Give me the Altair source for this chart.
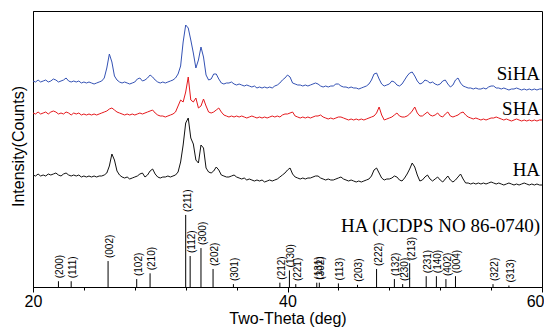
import altair as alt
import pandas as pd

# 2-theta grid (deg)
two_theta = [round(20 + 0.2 * i, 1) for i in range(201)]

siha = [206, 205, 207, 205, 206, 207, 205, 206, 208, 207,
        205, 206, 207, 209, 206, 205, 206, 205, 206, 204,
        205, 204, 205, 204, 203, 204, 205, 206, 209, 219,
        233, 225, 211, 207, 205, 204, 205, 204, 203, 204,
        205, 208, 209, 206, 207, 209, 212, 210, 207, 205,
        204, 205, 204, 205, 206, 207, 209, 213, 221, 245,
        262, 259, 247, 234, 219, 227, 240, 230, 212, 207,
        208, 213, 213, 208, 204, 203, 204, 204, 205, 203,
        202, 203, 202, 201, 202, 201, 200, 201, 199, 200,
        199, 200, 199, 200, 199, 201, 202, 204, 207, 209,
        212, 210, 204, 203, 202, 202, 201, 202, 201, 202,
        203, 204, 203, 201, 200, 201, 200, 201, 201, 203,
        203, 201, 200, 200, 199, 200, 199, 199, 198, 199,
        200, 201, 203, 207, 213, 214, 208, 203, 201, 202,
        203, 206, 205, 202, 201, 203, 207, 211, 214, 215,
        211, 206, 203, 204, 207, 206, 204, 205, 203, 202,
        203, 206, 207, 203, 200, 202, 207, 209, 204, 201,
        200, 199, 199, 198, 199, 198, 198, 199, 198, 200,
        201, 201, 199, 199, 198, 199, 198, 197, 198, 198,
        199, 198, 197, 198, 197, 198, 197, 198, 197, 198,
        198]

sha = [174, 173, 175, 173, 174, 175, 173, 175, 176, 175,
       173, 174, 173, 175, 174, 172, 174, 173, 174, 172,
       173, 172, 173, 172, 173, 172, 173, 174, 175, 176,
       178, 179, 177, 175, 174, 173, 172, 173, 172, 173,
       172, 173, 174, 173, 174, 175, 176, 177, 174, 172,
       171, 171, 170, 171, 172, 173, 175, 181, 187, 185,
       195, 210, 187, 185, 189, 179, 181, 188, 181, 175,
       174, 175, 177, 179, 175, 172, 171, 170, 171, 170,
       171, 170, 171, 170, 169, 170, 171, 170, 169, 170,
       169, 170, 169, 170, 171, 170, 171, 170, 172, 173,
       173, 174, 175, 171, 170, 169, 170, 169, 170, 169,
       170, 171, 171, 172, 170, 169, 168, 169, 168, 169,
       170, 170, 169, 168, 167, 168, 167, 168, 167, 168,
       167, 168, 169, 170, 171, 174, 180, 172, 167, 168,
       169, 170, 172, 174, 171, 170, 170, 171, 173, 176,
       180, 174, 171, 171, 173, 175, 172, 171, 172, 174,
       171, 170, 173, 175, 171, 170, 171, 172, 174, 175,
       172, 170, 169, 168, 169, 168, 167, 168, 167, 168,
       169, 169, 170, 169, 168, 167, 168, 167, 166, 167,
       168, 167, 166, 167, 166, 167, 166, 167, 166, 167,
       167]

ha = [112, 111, 113, 111, 112, 111, 113, 112, 113, 114,
      112, 111, 113, 114, 112, 111, 112, 111, 112, 110,
      111, 110, 111, 110, 111, 110, 111, 111, 112, 114,
      121, 133, 127, 116, 112, 110, 109, 110, 108, 109,
      110, 111, 113, 114, 110, 112, 116, 118, 113, 110,
      109, 110, 110, 111, 110, 111, 112, 115, 125, 142,
      164, 169, 149, 143, 127, 124, 142, 139, 119, 115,
      114, 116, 120, 117, 112, 111, 110, 110, 111, 112,
      110, 109, 108, 109, 107, 108, 107, 106, 107, 106,
      107, 105, 106, 107, 106, 107, 108, 110, 112, 114,
      117, 119, 113, 110, 109, 108, 109, 108, 109, 109,
      110, 111, 111, 109, 108, 107, 108, 107, 107, 108,
      109, 110, 108, 107, 106, 107, 106, 105, 106, 105,
      106, 107, 108, 111, 117, 119, 114, 109, 107, 108,
      108, 109, 111, 110, 107, 106, 109, 113, 118, 124,
      120, 112, 106, 107, 110, 112, 108, 106, 108, 110,
      107, 105, 108, 111, 107, 105, 107, 110, 113, 108,
      104, 104, 103, 104, 103, 104, 103, 104, 103, 104,
      105, 104, 103, 104, 103, 102, 103, 104, 103, 102,
      103, 102, 103, 104, 103, 102, 103, 102, 103, 102,
      102]

sample_names = ["SiHA", "SHA", "HA"]
sample_colors = ["#3452b4", "#e5191d", "#111111"]
sample_label_y = [213, 178, 117]
label_x = 59.85

# Reference pattern (HA, JCPDS 86-0740)
ref_pos = [22.0, 23.0, 25.9, 28.15, 29.2, 32.0, 32.35, 33.2, 34.15, 35.75,
           39.4, 40.15, 40.65, 42.3, 42.5, 44.0, 45.5, 47.0, 48.4, 49.05,
           49.6, 50.9, 51.7, 52.45, 53.2, 56.15, 57.4]
ref_int = [8, 8, 36, 11, 19, 100, 43, 54, 25, 4,
           6, 23, 4, 6, 6, 5, 3, 25, 11, 4,
           33, 15, 15, 11, 15, 4, 2]
ref_hkl = ["(200)", "(111)", "(002)", "(102)", "(210)", "(211)", "(112)", "(300)", "(202)", "(301)",
           "(212)", "(130)", "(221)", "(131)", "(302)", "(113)", "(203)", "(222)", "(132)", "(230)",
           "(213)", "(231)", "(140)", "(402)", "(004)", "(322)", "(313)"]
ref_title = "HA (JCDPS NO 86-0740)"
ref_title_y = 61

rows = []
for name, vals in zip(sample_names, [siha, sha, ha]):
    for t, v in zip(two_theta, vals):
        rows.append({"two_theta": t, "intensity": v, "sample": name})
traces = pd.DataFrame(rows)

labels_df = pd.DataFrame({"two_theta": [label_x] * 4,
                          "intensity": sample_label_y + [ref_title_y],
                          "text": sample_names + [ref_title]})
ref_df = pd.DataFrame({"two_theta": ref_pos, "rel": ref_int, "hkl": ref_hkl})

x_axis = alt.Axis(
    values=list(range(20, 61, 2)),
    labelExpr="datum.value % 10 === 0 ? datum.label : ''",
    tickSize={"condition": {"test": "datum.value % 10 === 0", "value": 5}, "value": 3},
    labelAlign={"condition": {"test": "datum.value === 60", "value": "right"}, "value": "center"},
    labelOffset={"condition": {"test": "datum.value === 60", "value": 2}, "value": 0},
    labelOverlap=False, labelFlush=False,
    labelFont="Liberation Sans", labelFontSize=16, labelColor="black", labelPadding=1,
    tickColor="black", domainColor="black", grid=False,
    title="Two-Theta (deg)", titleFont="Liberation Sans", titleFontSize=16,
    titleFontWeight="normal", titleColor="black", titleY=36, titleBaseline="alphabetic",
)
x_enc = alt.X("two_theta:Q", scale=alt.Scale(domain=[20, 60], nice=False, zero=False), axis=x_axis)

y_axis = alt.Axis(
    ticks=False, labels=False, grid=False, domainColor="black",
    title="Intensity(Counts)", titleFont="Liberation Sans", titleFontSize=16,
    titleFontWeight="normal", titleColor="black", titleX=-15, titleY=135,
    titleBaseline="middle", titleAlign="center",
)
y_scale = alt.Scale(domain=[0, 276], nice=False, zero=False)

lines = alt.Chart(traces).mark_line(strokeWidth=1, clip=True).encode(
    x=x_enc,
    y=alt.Y("intensity:Q", scale=y_scale, axis=y_axis),
    color=alt.Color("sample:N", scale=alt.Scale(domain=sample_names, range=sample_colors), legend=None),
    detail="sample:N",
)

name_text = alt.Chart(labels_df).mark_text(
    font="Liberation Serif", fontSize=19, align="right", baseline="middle", color="black"
).encode(
    x=alt.X("two_theta:Q", scale=alt.Scale(domain=[20, 60], nice=False, zero=False)),
    y=alt.Y("intensity:Q", scale=y_scale),
    text="text:N",
)

main = alt.layer(lines, name_text)

ref_scale = alt.Scale(domain=[0, 383], nice=False, zero=True)
ref_rules = alt.Chart(ref_df).mark_rule(color="black", strokeWidth=1).encode(
    x=alt.X("two_theta:Q", scale=alt.Scale(domain=[20, 60], nice=False, zero=False)),
    y=alt.Y("rel:Q", scale=ref_scale, axis=None),
    y2=alt.datum(0),
)
ref_text = alt.Chart(ref_df).mark_text(
    font="Liberation Sans", fontSize=10, angle=270, align="left", baseline="middle",
    dx=3, dy=2, color="black"
).encode(
    x=alt.X("two_theta:Q", scale=alt.Scale(domain=[20, 60], nice=False, zero=False)),
    y=alt.Y("rel:Q", scale=ref_scale, axis=None),
    text="hkl:N",
)
ref = alt.layer(ref_rules, ref_text)

chart = alt.layer(main, ref).resolve_scale(y="independent").properties(
    width=509, height=276,
    autosize=alt.AutoSizeParams(type="none"),
    padding={"left": 25, "top": 3, "right": 2, "bottom": 40},
    background="white",
).configure_view(stroke="black", strokeWidth=1)

chart.save("out.html", embed_options={"renderer": "svg", "actions": False})
